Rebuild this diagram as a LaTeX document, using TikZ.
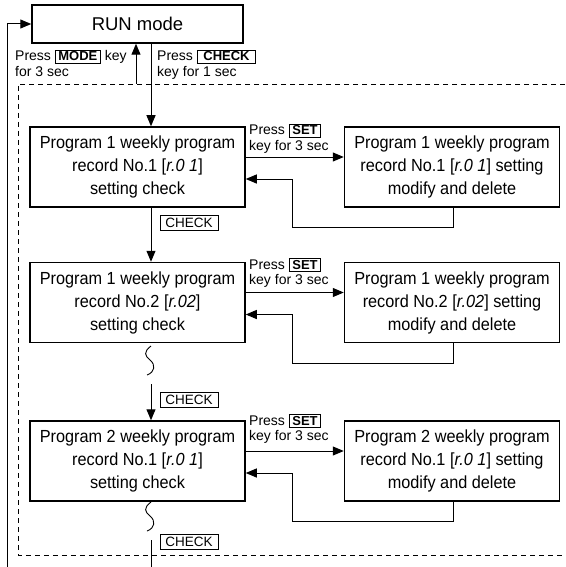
\documentclass[tikz,border=0pt]{standalone}
\usepackage{fontspec}
\setmainfont{Liberation Sans}
\newfontfamily\boxfont{Liberation Sans}[FakeStretch=0.93]
\usetikzlibrary{arrows.meta, positioning}
\tikzstyle{stepbox} = [rectangle, draw=black, line width=1.5pt, minimum width=215pt,
                       minimum height=80pt, inner sep=0pt, align=center,
                       font=\boxfont\fontsize{17.5}{23}\selectfont]
\tikzstyle{keytag}  = [rectangle, draw=black, line width=0.8pt, minimum width=58pt,
                       minimum height=15pt, inner sep=0pt, font=\fontsize{13.5}{13.5}\selectfont]
\tikzstyle{lbl}     = [inner sep=0pt, font=\fontsize{14}{14}\selectfont]
\tikzstyle{arrow}   = [line width=1pt, -{Triangle[length=11pt, width=9pt]}]
\newcommand{\keylbl}[1]{{\setlength{\fboxsep}{1.5pt}\setlength{\fboxrule}{0.8pt}%
  \fbox{\hspace{1.2pt}\fontsize{13}{13}\selectfont\bfseries #1\hspace{1.2pt}}}}
\newcommand{\segdisp}[1]{\textit{#1}}

\begin{document}
\begin{tikzpicture}[x=1pt, y=-1pt]
  \useasboundingbox (0,0) rectangle (565,567);

  % --- RUN mode ---
  \node (run) [stepbox, minimum width=211pt, minimum height=38pt,
               font=\fontsize{18.5}{20}\selectfont] at (137.5,24) {RUN mode};

  % --- setting check column ---
  \node (p1) [stepbox] at (137.5,167)
        {Program 1 weekly program\\record No.1 [\segdisp{r.0\ 1}]\\setting check};
  \node (p2) [stepbox, below=54pt of p1]
        {Program 1 weekly program\\record No.2 [\segdisp{r.02}]\\setting check};
  \node (p3) [stepbox, below=77pt of p2]
        {Program 2 weekly program\\record No.1 [\segdisp{r.0\ 1}]\\setting check};

  % --- modify and delete column ---
  \node (p1m) [stepbox, right=98pt of p1]
        {Program 1 weekly program\\record No.1 [\segdisp{r.0\ 1}] setting\\modify and delete};
  \node (p2m) [stepbox, right=98pt of p2]
        {Program 1 weekly program\\record No.2 [\segdisp{r.02}] setting\\modify and delete};
  \node (p3m) [stepbox, right=98pt of p3]
        {Program 2 weekly program\\record No.1 [\segdisp{r.0\ 1}] setting\\modify and delete};

  % dashed frame
  \draw[line width=0.8pt, dash pattern=on 5pt off 4pt]
        (565,84) -- (18,84) -- (18,555) -- (565,555);

  % key labels
  \node (l_mode1) [lbl, anchor=base west] at (15,61) {Press \keylbl{MODE} key};
  \node (l_mode2) [lbl, anchor=base west] at (15,77) {for 3 sec};
  \node (l_chk1)  [lbl, anchor=base west] at (157,61) {Press \keylbl{\hspace{3pt}CHECK\hspace{3pt}}};
  \node (l_chk2)  [lbl, anchor=base west] at (157,77) {key for 1 sec};
  \foreach \p/\y in {1/135, 2/269, 3/425} {
    \node (l_set\p a) [lbl, anchor=base west] at (249,\y) {Press \keylbl{SET}};
    \node (l_set\p b) [lbl, anchor=base west] at (249,\y+15) {key for 3 sec};
  }
  \node (chk1) [keytag] at (189,222.5) {CHECK};
  \node (chk2) [keytag] at (189,400)   {CHECK};
  \node (chk3) [keytag] at (189,541.5) {CHECK};

  % Arrows
  \coordinate (loop_in)  at (7,567);
  \coordinate (mode_out) at (136,84);
  \coordinate (cut1)     at (151,384);
  \coordinate (cut2)     at (151,540);
  \coordinate (out_end)  at (151,567);
  \draw[arrow] (loop_in) -- (7,24) -- (run.west);
  \draw[arrow] (mode_out) -- ([xshift=-1.5pt]run.south);
  \draw[arrow] ([xshift=13.5pt]run.south) -- ([xshift=13.5pt]p1.north);
  \draw[arrow] ([xshift=13.5pt]p1.south) -- ([xshift=13.5pt]p2.north);
  \draw[arrow] (cut1) -- ([xshift=13.5pt]p3.north);
  \draw[line width=1pt] (cut2) -- (out_end);
  \foreach \a in {1,2,3} {
    \draw[arrow] ([yshift=10pt]p\a.east) -- ([yshift=10pt]p\a m.west);
    \draw[arrow] ([xshift=1.5pt]p\a m.south) -- ++(0,20)
                 -| ([xshift=47pt, yshift=-12pt]p\a.east) -- ([yshift=-12pt]p\a.east);
  }

  % break marks
  \draw[line width=0.9pt] (151,346) .. controls (143,352) and (145,356) .. (150,360)
                          .. controls (156,365) and (155,372) .. (147,375);
  \draw[line width=0.9pt] (151,502) .. controls (143,508) and (145,512) .. (150,516)
                          .. controls (156,521) and (155,528) .. (147,531);

\end{tikzpicture}
\end{document}
